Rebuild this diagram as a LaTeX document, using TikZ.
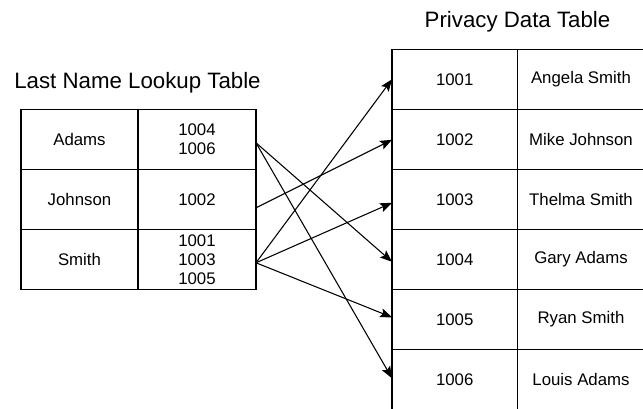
\documentclass[tikz,border=0pt]{standalone}
\usepackage{fontspec}
\setmainfont{Liberation Sans}
\usetikzlibrary{arrows.meta,calc}

\begin{document}
\begin{tikzpicture}[x=0.75pt,y=-0.75pt,
  cell/.style={draw=black, line width=1.1pt, rectangle, inner sep=0pt, outer sep=0pt,
    minimum height=45pt, align=center, font=\fontsize{12.6}{14.3}\selectfont},
  lcolA/.style={cell, minimum width=87.75pt},
  lcolB/.style={cell, minimum width=88.5pt},
  rcolA/.style={cell, minimum width=94.1pt},
  rcolB/.style={cell, minimum width=95.25pt},
  title/.style={anchor=base, inner sep=0pt, font=\fontsize{16.7}{20}\selectfont},
  link/.style={line width=0.8pt, -{Stealth[length=9pt,width=7pt,inset=1.8pt]}}]

\useasboundingbox (0,0) rectangle (643,409);
\clip (0,0) rectangle (643,409);

% titles
\node[title] (ltitle) at (137.5,88.3) {Last Name Lookup Table};
\node[title] (rtitle) at (517.5,27.3) {Privacy Data Table};

% last name lookup table
\node[lcolA] (adams)   at (79.5,139.3) {Adams};
\node[lcolB] (adamsId) at (197,139.3)  {1004\\1006};
\node[lcolA] (johnson)   at (79.5,199.3) {Johnson};
\node[lcolB] (johnsonId) at (197,199.3)  {1002};
\node[lcolA] (smith)   at (79.5,259.3) {Smith};
\node[lcolB] (smithId) at (197,259.3)  {1001\\1003\\1005};

% privacy data table
\node[rcolA] (id1) at (454.75,79.3)  {1001};
\node[rcolB] (nm1) at (581,79.3)     {Angela Smith};
\node[rcolA] (id2) at (454.75,139.3) {1002};
\node[rcolB] (nm2) at (581,139.3)    {Mike Johnson};
\node[rcolA] (id3) at (454.75,199.3) {1003};
\node[rcolB] (nm3) at (581,199.3)    {Thelma Smith};
\node[rcolA] (id4) at (454.75,259.3) {1004};
\node[rcolB] (nm4) at (581,259.3)    {Gary Adams};
\node[rcolA] (id5) at (454.75,319.3) {1005};
\node[rcolB] (nm5) at (581,319.3)    {Ryan Smith};
\node[rcolA] (id6) at (454.75,379.3) {1006};
\node[rcolB] (nm6) at (581,379.3)    {Louis Adams};

% links from the lookup ids to the records
\coordinate (adamsOut)   at ($(adamsId.east)+(0,3.5)$);
\coordinate (johnsonOut) at ($(johnsonId.east)+(0,8.5)$);
\coordinate (smithOut)   at ($(smithId.east)+(0,3.5)$);

\draw[link] (adamsOut) -- ($(id4.west)+(0,2.5)$);
\draw[link] (adamsOut) -- ($(id6.west)+(0,-1)$);
\draw[link] (johnsonOut) -- ($(id2.west)+(0,0.5)$);
\draw[link] (smithOut) -- (id1.west);
\draw[link] (smithOut) -- ($(id3.west)+(0,3.5)$);
\draw[link] (smithOut) -- ($(id5.west)+(0,-2)$);
\end{tikzpicture}
\end{document}
